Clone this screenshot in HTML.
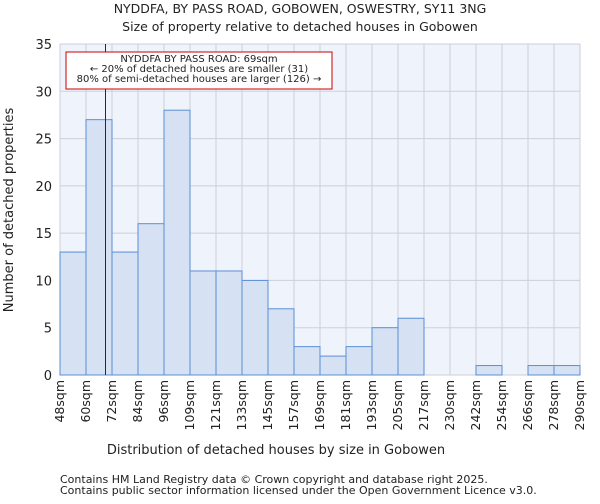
<!DOCTYPE html>
<html><head><meta charset="utf-8"><style>
body{margin:0;background:#fff;font-family:"DejaVu Sans","Liberation Sans",sans-serif;}
text{font-family:"DejaVu Sans","Liberation Sans",sans-serif;fill:#222;}
</style></head><body>
<svg id="chart" width="600" height="500">
<text x="300" y="13" text-anchor="middle" font-size="12.5">NYDDFA, BY PASS ROAD, GOBOWEN, OSWESTRY, SY11 3NG</text>
<text x="300" y="31" text-anchor="middle" font-size="12.5">Size of property relative to detached houses in Gobowen</text>
<g id="plot"></g>
<text x="276" y="454" text-anchor="middle" font-size="13">Distribution of detached houses by size in Gobowen</text>
<text transform="translate(13,210) rotate(-90)" text-anchor="middle" font-size="13">Number of detached properties</text>
<text x="60" y="483" font-size="11" fill="#444">Contains HM Land Registry data © Crown copyright and database right 2025.</text>
<text x="60" y="494" font-size="11" fill="#444">Contains public sector information licensed under the Open Government Licence v3.0.</text>
</svg>
<script>
const categories=["48sqm","60sqm","72sqm","84sqm","96sqm","109sqm","121sqm","133sqm","145sqm","157sqm","169sqm","181sqm","193sqm","205sqm","217sqm","230sqm","242sqm","254sqm","266sqm","278sqm","290sqm"];
const counts=[13,27,13,16,28,11,11,10,7,3,2,3,5,6,0,0,1,0,1,1];
const yTicks=[0,5,10,15,20,25,30,35];
const edgeValues=[48,60,72,84,96,109,121,133,145,157,169,181,193,205,217,230,242,254,266,278,290];
const markerValue=69;
const NS="http://www.w3.org/2000/svg";
const g=document.getElementById('plot');
const X0=60,X1=580,Y0=375,Y1=44,YMAX=35;
const bw=(X1-X0)/counts.length;
const xs=i=>X0+i*bw;
const ys=v=>Y0-(v/YMAX)*(Y0-Y1);
function mk(t,a){const e=document.createElementNS(NS,t);for(const k in a)e.setAttribute(k,a[k]);g.appendChild(e);return e;}
let e=mk('rect',{x:X0,y:Y1,width:X1-X0,height:Y0-Y1,fill:'#eef3fc'});


for(let i=0;i<=counts.length;i++){e=mk('line',{x1:xs(i),x2:xs(i),y1:Y1,y2:Y0,stroke:'#cfcfd6','stroke-width':1});

}
yTicks.forEach(t=>{e=mk('line',{x1:X0,x2:X1,y1:ys(t),y2:ys(t),stroke:'#cfcfd6','stroke-width':1});


e=mk('text',{x:X0-8,y:ys(t)+5,'text-anchor':'end','font-size':13});e.textContent=t;

});
counts.forEach((v,i)=>{if(v<=0)return;e=mk('rect',{x:xs(i),y:ys(v),width:bw,height:Y0-ys(v),fill:'#d6e1f3',stroke:'#5b8fd6','stroke-width':1});

});
categories.forEach((c,i)=>{const x=xs(i)+4;e=mk('text',{x:x,y:380,'text-anchor':'end','font-size':12.5,transform:`rotate(-90 ${x} 380)`});e.textContent=c;

});
let mi=0;while(mi<edgeValues.length-2&&edgeValues[mi+1]<markerValue)mi++;
const mx=xs(mi)+(markerValue-edgeValues[mi])/(edgeValues[mi+1]-edgeValues[mi])*bw;
e=mk('line',{x1:mx,x2:mx,y1:Y1,y2:Y0,stroke:'#880000','stroke-width':1});


e=mk('rect',{x:66,y:52,width:266,height:37,fill:'#fff',stroke:'#cc0000','stroke-width':1});


["NYDDFA BY PASS ROAD: 69sqm","← 20% of detached houses are smaller (31)","80% of semi-detached houses are larger (126) →"].forEach((s,i)=>{e=mk('text',{x:199,y:62+i*10,'text-anchor':'middle','font-size':10});e.textContent=s;

});
</script>
</body></html>
